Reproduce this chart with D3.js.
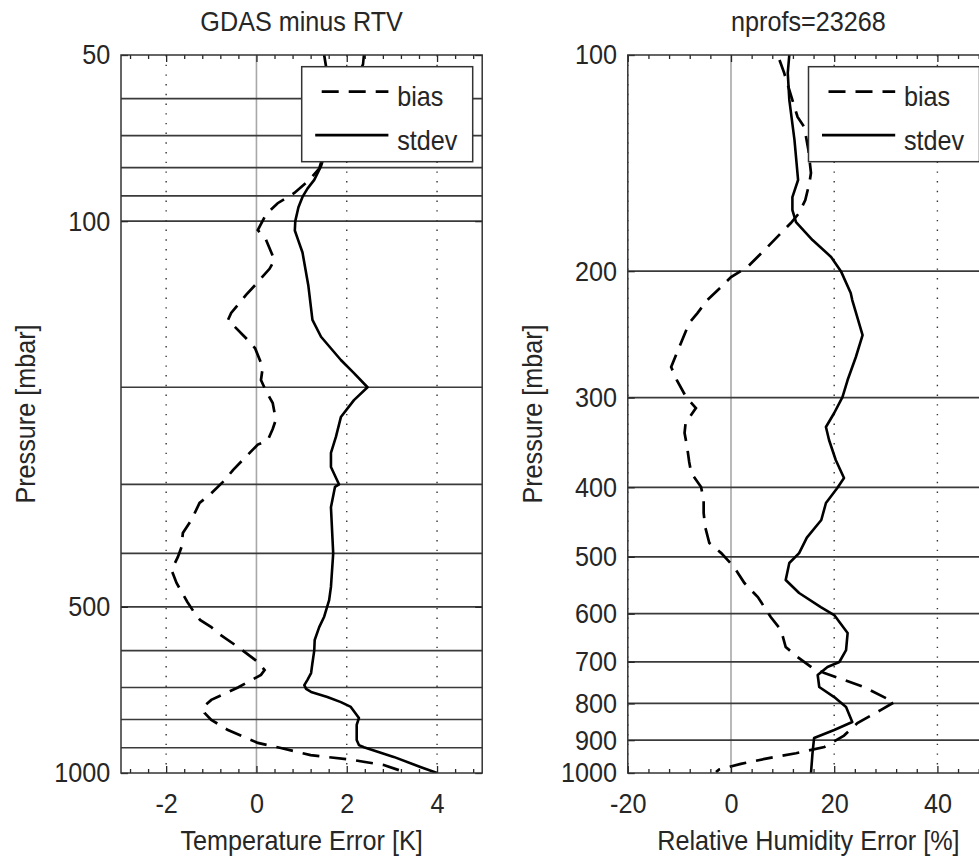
<!DOCTYPE html>
<html>
<head>
<meta charset="utf-8">
<script src="https://cdn.jsdelivr.net/npm/d3@7"></script>
<style>
  body { margin: 0; background: #fff; }
  svg { display: block; }
  text { font-family: "Liberation Sans", Arial, sans-serif; }
</style>
</head>
<body>
<svg id="chart" width="979" height="857"></svg>
<script>
// ---- Temperature profile (GDAS minus retrieval), pressure in mbar, error in K ----
const tempBiasP = [50, 53, 60, 68, 75, 80.3, 84.2, 88.9, 92.8, 97.3, 103.8, 108, 117.6, 122, 130.6,
  136, 146.7, 151, 163, 170, 184, 194, 203, 213.6, 229, 238, 249.6, 254, 263, 282.5,
  294.6, 313.5, 324, 348, 367.4, 389.5, 406, 428.8, 452.6, 490, 513, 528, 544, 558, 591,
  629, 651, 664, 700, 737, 759, 778, 801, 836, 882, 901, 928, 946, 967, 1000];
const tempBias = [1.5, 1.55, 1.6, 1.6, 1.5, 1.39, 1.17, 0.84, 0.47, 0.21, 0.03, 0.21, 0.40, 0.29, -0.03,
  -0.23, -0.56, -0.63, -0.23, -0.03, 0.14, 0.10, 0.21, 0.36, 0.43, 0.36, 0.25, 0.03, -0.15, -0.52,
  -0.70, -1.04, -1.26, -1.44, -1.63, -1.66, -1.74, -1.88, -1.77, -1.53, -1.37, -1.25, -1.0, -0.85, -0.41,
  0.03, 0.18, 0.1, -0.41, -1.0, -1.18, -1.15, -1.0, -0.63, 0.03, 0.54, 1.2, 2.09, 2.82, 3.34];

const tempStdevP = [50, 52, 58, 66, 74, 79.5, 84.2, 87.3, 90.4, 94.4, 100, 104, 108, 114, 131,
  151, 162, 178.5, 188.5, 200, 211, 226.5, 246, 263, 279, 300, 303, 330, 400, 460,
  486, 521, 544, 574, 600, 632, 659, 678, 693, 704, 713, 728, 744, 759, 795,
  818, 871, 890, 898, 935, 975, 1000];
const tempStdev = [2.38, 2.36, 2.1, 1.8, 1.55, 1.43, 1.28, 1.13, 1.02, 0.93, 0.86, 0.85, 0.92, 1.02, 1.15,
  1.24, 1.43, 1.87, 2.16, 2.46, 2.16, 1.87, 1.76, 1.65, 1.65, 1.83, 1.74, 1.65, 1.70, 1.65,
  1.61, 1.5, 1.39, 1.29, 1.28, 1.24, 1.21, 1.13, 1.06, 1.1, 1.21, 1.57, 1.87, 2.09, 2.27,
  2.22, 2.22, 2.27, 2.38, 3.04, 3.63, 4.0];

// ---- Relative humidity profile, error in % ----
const rhBiasP = [101.6, 105.9, 122, 126, 135.6, 146, 150.7, 159.2, 166, 171.4, 177, 185, 197.3, 203.8, 210.4,
  219.4, 228.8, 236.2, 260, 272, 283.6, 299.5, 310.2, 325.5, 336.1, 351.6, 368.9, 382.1, 399.7, 416.7,
  434.4, 454.4, 478.3, 494, 516.6, 543.8, 568.8, 606.4, 632.2, 667.6, 689.4, 714.2, 725.7, 759, 797,
  817.3, 852, 887, 920, 938.6, 955, 971, 989, 997];
const rhBias = [9.4, 10.3, 12.9, 14.2, 15, 15.5, 15.2, 14.4, 13.2, 11.6, 9.7, 7.1, 3.2, 0, -1.9,
  -4.6, -6.5, -8.1, -10.5, -11.6, -10.5, -8.7, -6.8, -8.8, -9, -8.5, -8.1, -7.7, -5.8, -5.3,
  -5.3, -5.0, -4.2, -1.9, 0.6, 2.6, 5.2, 7.7, 9.7, 10.6, 12.9, 15.8, 18.1, 25.8, 31.6,
  29, 24.5, 21.9, 18.1, 12.6, 6.8, 1.9, -2.3, -2.9];

const rhStdevP = [100, 105.9, 115.5, 131.3, 149.3, 157.7, 164.4, 170.9, 181, 191.1, 200, 214.5, 219.4, 245.5, 263.4,
  283.6, 299.5, 315.2, 329.7, 343.7, 366.5, 388.3, 401, 420.7, 444.3, 470, 494, 510, 538.6, 561.5,
  587.3, 602.5, 638.3, 674.1, 700.5, 711.9, 730.4, 759, 784, 809.5, 849.2, 871.2, 894, 937.8, 1000];
const rhStdev = [11.3, 11, 11.3, 12.3, 13, 11.9, 11.9, 12.6, 15.8, 19.4, 21.3, 23.2, 23.5, 25.5, 24.2,
  22.6, 21.6, 20, 18.4, 19, 20.3, 21.9, 20.6, 18.4, 17.5, 14.7, 13.2, 11.3, 10.6, 13.2,
  17.4, 20, 22.6, 22.3, 21, 18.7, 16.8, 17.1, 20, 22.3, 23.5, 20, 16.1, 15.8, 15.5];

// ---- Axes, ticks and labels ----
const tempXDomain = [-3, 5];
const tempXTicks = [-2, 0, 2, 4];
const tempXMinorStep = 0.4;
const tempPTicks = [50, 100, 500, 1000];
const tempLevels = [60, 70, 80, 90, 100, 200, 300, 400, 500, 600, 700, 800, 900];

const rhXDomain = [-20, 50];
const rhXTicks = [-20, 0, 20, 40];
const rhXMinorStep = 4;
const rhPTicks = [100, 200, 300, 400, 500, 600, 700, 800, 900, 1000];
const rhLevels = [200, 300, 400, 500, 600, 700, 800, 900];

const titles = ["GDAS minus RTV", "nprofs=23268"];
const xLabels = ["Temperature Error [K]", "Relative Humidity Error [%]"];
const yLabel = "Pressure [mbar]";
const legendNames = ["bias", "stdev"];

// ---- Layout ----
const svg = d3.select("#chart");
const TOP = 55, BOTTOM = 773, PW = 361.2;
const FS = 28, SX = 0.9;          // font size and horizontal condensing of all text
const INK = "#262626";
const BIAS_DASH = "17,10";

svg.append("rect").attr("width", 979).attr("height", 857).attr("fill", "#fff");

function addText(g, x, y, txt, anchor, rot) {
  return g.append("text")
    .attr("transform", `translate(${x},${y}) rotate(${rot || 0}) scale(${SX},1)`)
    .attr("text-anchor", anchor)
    .attr("font-size", FS)
    .attr("fill", INK)
    .text(txt);
}

function styleAxis(sel) {
  sel.select(".domain").remove();
  sel.attr("color", INK).attr("font-size", FS).attr("font-family", null);
  sel.selectAll(".tick line").attr("stroke-width", 1.3);
}

function drawPanel(cfg) {
  const x0 = cfg.left, x1 = cfg.left + PW;
  const x = d3.scaleLinear().domain(cfg.xDomain).range([x0, x1]);
  const y = d3.scaleLog().domain([cfg.pTop, 1000]).range([TOP, BOTTOM]);
  const g = svg.append("g");

  const clipId = "plot-clip-" + cfg.id;
  svg.append("clipPath").attr("id", clipId)
    .append("rect").attr("x", x0).attr("y", TOP).attr("width", PW).attr("height", BOTTOM - TOP);
  const plot = g.append("g").attr("clip-path", `url(#${clipId})`);

  // dotted vertical grid at the labelled x ticks (zero gets a solid grey line)
  plot.selectAll("line.vgrid").data(cfg.xTicks.filter(v => v !== 0)).join("line")
    .attr("class", "vgrid")
    .attr("x1", d => x(d)).attr("x2", d => x(d))
    .attr("y1", TOP).attr("y2", BOTTOM)
    .attr("stroke", "#333").attr("stroke-width", 1.4)
    .attr("stroke-dasharray", "1.4,8.3");

  plot.append("line")
    .attr("x1", x(0)).attr("x2", x(0)).attr("y1", TOP).attr("y2", BOTTOM)
    .attr("stroke", "#a8a8a8").attr("stroke-width", 1.6);

  // pressure levels
  plot.selectAll("line.level").data(cfg.levels).join("line")
    .attr("class", "level")
    .attr("x1", x0).attr("x2", x1)
    .attr("y1", d => y(d)).attr("y2", d => y(d))
    .attr("stroke", "#3a3a3a").attr("stroke-width", 1.7);

  // profiles
  const line = d3.line().x(d => x(d[1])).y(d => y(d[0]));
  plot.append("path").datum(d3.zip(cfg.stdevP, cfg.stdev))
    .attr("d", line).attr("fill", "none")
    .attr("stroke", "#000").attr("stroke-width", 2.6).attr("stroke-linejoin", "round");
  plot.append("path").datum(d3.zip(cfg.biasP, cfg.bias))
    .attr("d", line).attr("fill", "none")
    .attr("stroke", "#000").attr("stroke-width", 2.7)
    .attr("stroke-dasharray", BIAS_DASH);

  // ticks (inward) on all four sides
  const minor = d3.range(cfg.xDomain[0], cfg.xDomain[1] + 1e-9, cfg.minorStep)
    .map(v => +v.toFixed(6))
    .filter(v => !cfg.xTicks.includes(v) && v > cfg.xDomain[0] && v < cfg.xDomain[1]);
  // minor ticks are aligned on the major ticks
  const minorAligned = [];
  cfg.xTicks.forEach(() => {});
  const base = cfg.xTicks[0];
  for (let v = base - cfg.minorStep * 10; v < cfg.xDomain[1]; v += cfg.minorStep) {
    const r = +v.toFixed(6);
    if (r > cfg.xDomain[0] && r < cfg.xDomain[1] && !cfg.xTicks.includes(r)) minorAligned.push(r);
  }

  const bMinor = g.append("g").attr("transform", `translate(0,${BOTTOM})`)
    .call(d3.axisBottom(x).tickValues(minorAligned).tickSize(-4).tickFormat(""));
  styleAxis(bMinor);
  const tMinor = g.append("g").attr("transform", `translate(0,${TOP})`)
    .call(d3.axisTop(x).tickValues(minorAligned).tickSize(-4).tickFormat(""));
  styleAxis(tMinor);

  const bMajor = g.append("g").attr("transform", `translate(0,${BOTTOM})`)
    .call(d3.axisBottom(x).tickValues(cfg.xTicks).tickSize(-7).tickPadding(20)
      .tickFormat(d => String(d)));
  styleAxis(bMajor);
  bMajor.selectAll("text").attr("transform", `scale(${SX},1)`);
  const tMajor = g.append("g").attr("transform", `translate(0,${TOP})`)
    .call(d3.axisTop(x).tickValues(cfg.xTicks).tickSize(-7).tickFormat(""));
  styleAxis(tMajor);

  const lAxis = g.append("g").attr("transform", `translate(${x0},0)`)
    .call(d3.axisLeft(y).tickValues(cfg.pTicks).tickSize(-7).tickPadding(12)
      .tickFormat(d => String(d)));
  styleAxis(lAxis);
  lAxis.selectAll("text").attr("transform", `scale(${SX},1)`);
  const rAxis = g.append("g").attr("transform", `translate(${x1},0)`)
    .call(d3.axisRight(y).tickValues(cfg.pTicks).tickSize(-7).tickFormat(""));
  styleAxis(rAxis);

  // frame
  g.append("rect").attr("x", x0).attr("y", TOP).attr("width", PW).attr("height", BOTTOM - TOP)
    .attr("fill", "none").attr("stroke", "#333").attr("stroke-width", 1.5);

  // legend
  const lx = x1 - 180.5, ly = 66.7, lw = 171, lh = 95;
  const leg = g.append("g");
  leg.append("rect").attr("x", lx).attr("y", ly).attr("width", lw).attr("height", lh)
    .attr("fill", "#fff").attr("stroke", "#333").attr("stroke-width", 1.5);
  const rows = [
    { name: legendNames[0], dash: BIAS_DASH, y: ly + 25 },
    { name: legendNames[1], dash: null, y: ly + 68.5 }
  ];
  rows.forEach(r => {
    leg.append("line")
      .attr("x1", lx + (r.dash ? 20 : 13.5)).attr("x2", lx + 86.7)
      .attr("y1", r.y).attr("y2", r.y)
      .attr("stroke", "#000").attr("stroke-width", 2.7)
      .attr("stroke-dasharray", r.dash);
    addText(leg, lx + 95.5, r.y + 14.5, r.name, "start");
  });

  // titles and axis labels
  const cx = (x0 + x1) / 2;
  addText(g, cx, 31, cfg.title, "middle");
  addText(g, cx, 850, cfg.xLabel, "middle");
  addText(g, x0 - 86, (TOP + BOTTOM) / 2, yLabel, "middle", -90);
}

drawPanel({
  id: "temp", left: 121, xDomain: tempXDomain, xTicks: tempXTicks, minorStep: tempXMinorStep,
  pTop: 50, pTicks: tempPTicks, levels: tempLevels,
  biasP: tempBiasP, bias: tempBias, stdevP: tempStdevP, stdev: tempStdev,
  title: titles[0], xLabel: xLabels[0]
});

drawPanel({
  id: "rh", left: 627.8, xDomain: rhXDomain, xTicks: rhXTicks, minorStep: rhXMinorStep,
  pTop: 100, pTicks: rhPTicks, levels: rhLevels,
  biasP: rhBiasP, bias: rhBias, stdevP: rhStdevP, stdev: rhStdev,
  title: titles[1], xLabel: xLabels[1]
});
</script>
</body>
</html>
